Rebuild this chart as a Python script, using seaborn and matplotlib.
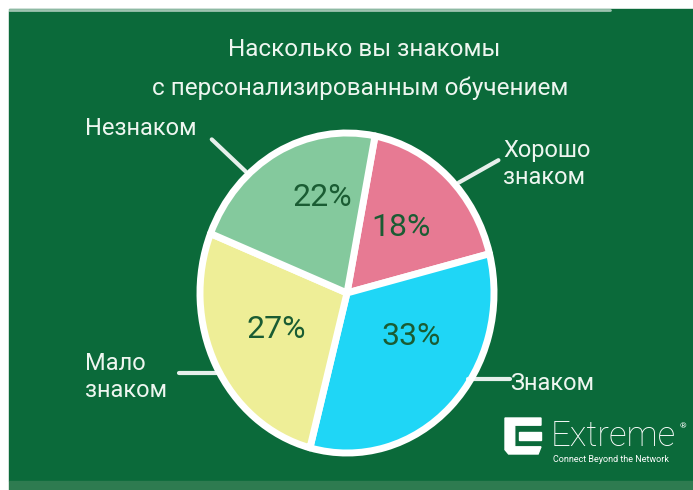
import matplotlib
matplotlib.use("Agg")
import matplotlib.pyplot as plt
import seaborn as sns
from matplotlib.patches import Rectangle, Polygon

# Survey data
categories = ["Хорошо\nзнаком", "Знаком", "Мало\nзнаком", "Незнаком"]
shares = [18, 33, 27, 22]
slice_colors = ["#e77a93", "#1fd6f6", "#eeee97", "#84c99d"]
title_lines = ["Насколько вы знакомы", "с персонализированным обучением"]

BOARD = "#0b6a3a"
CHALK = "#eef6f0"
PCT_COLOR = "#1a5c33"

sns.set_theme(style="white")
plt.rcParams["font.family"] = ["Roboto", "DejaVu Sans"]

W, H = 693, 490
fig = plt.figure(figsize=(W / 100, H / 100), dpi=100, facecolor="white")

# Board layer in pixel coordinates (y grows downward)
board = fig.add_axes([0, 0, 1, 1])
board.set_xlim(0, W)
board.set_ylim(H, 0)
board.axis("off")
board.add_patch(Rectangle((9, 9), W - 9, 472, color=BOARD, zorder=0))
board.add_patch(Rectangle((9, 481), W - 9, 9, color="#2e7b50", zorder=0))
board.plot([9, 610], [10.5, 10.5], color="white", lw=2, alpha=0.6, zorder=1)

# Title
board.text(364, 50, title_lines[0], ha="center", va="center", fontsize=17.5, color=CHALK)
board.text(360, 88, title_lines[1], ha="center", va="center", fontsize=17.5, color=CHALK)

# Pie, slightly taller than wide
cx, cy, rx, ry = 347, 293, 147, 160
ax = fig.add_axes([(cx - rx) / W, 1 - (cy + ry) / H, 2 * rx / W, 2 * ry / H])
wedges, _, pct_texts = ax.pie(
    shares,
    colors=slice_colors,
    startangle=79,
    counterclock=False,
    autopct="%d%%",
    pctdistance=0.56,
    wedgeprops=dict(edgecolor="white", linewidth=5, joinstyle="round"),
    textprops=dict(color=PCT_COLOR, fontsize=23, fontweight="normal"),
)
ax.set_aspect("auto")
ax.set_xlim(-1, 1)
ax.set_ylim(-1, 1)
ax.axis("off")

# Percentage labels sit a little off the wedge bisectors
pct_spots = [(0.37, 0.41), (0.44, -0.27), (-0.48, -0.23), (-0.17, 0.60)]
for t, pos in zip(pct_texts, pct_spots):
    t.set_position(pos)

# Chalk leader lines (pie-normalised coordinates)
leaders = [
    [(1.03, 0.83), (0.76, 0.69)],
    [(0.82, -0.54), (1.11, -0.54)],
    [(-1.14, -0.50), (-0.86, -0.50)],
    [(-0.92, 0.96), (-0.69, 0.76)],
]
for (x0, y0), (x1, y1) in leaders:
    ax.plot([x0, x1], [y0, y1], color="white", lw=3, solid_capstyle="round",
            clip_on=False, alpha=0.9)

# Category labels
label_pos = [(503, 164), (510, 383), (85, 377), (85, 128)]
for name, (lx, ly) in zip(categories, label_pos):
    board.text(lx, ly, name, ha="left", va="center", fontsize=17,
               color=CHALK, linespacing=1.25)

# Brand mark
ix, iy, s = 505, 418, 36
def sq(pts):
    return [(ix + px * s, iy + py * s) for px, py in pts]
board.add_patch(Polygon(sq([(0, 0), (1, 0), (1, 0.2), (0.27, 0.2), (0.27, 0.8),
                            (1, 0.8), (0.92, 1), (0.1, 1), (0, 0.88)]),
                        color="white", zorder=3))
board.add_patch(Polygon(sq([(0.4, 0.4), (1, 0.4), (1, 0.6), (0.4, 0.6)]),
                        color="white", zorder=3))
board.text(551, 446, "Extreme", ha="left", va="baseline", fontsize=25,
           fontweight="light", color="white")
board.text(680, 428, "®", ha="left", va="baseline", fontsize=6, color="white")
board.text(553, 459, "Connect Beyond the Network", ha="left", va="center",
           fontsize=6.5, color="white")

fig.savefig("out.png", dpi=100, facecolor="white")
